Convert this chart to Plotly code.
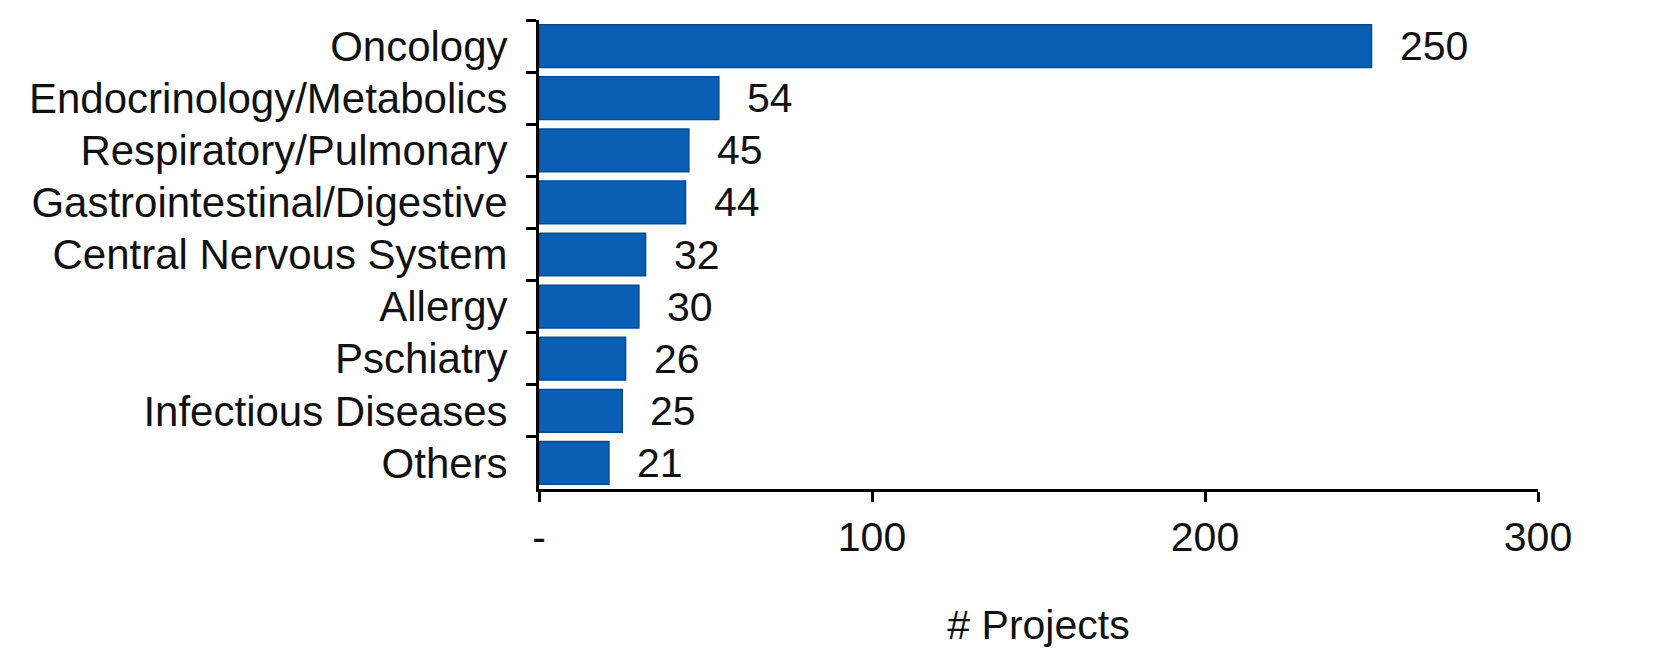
import plotly.graph_objects as go

categories = ["Oncology", "Endocrinology/Metabolics", "Respiratory/Pulmonary",
              "Gastrointestinal/Digestive", "Central Nervous System", "Allergy",
              "Pschiatry", "Infectious Diseases", "Others"]
projects = [250, 54, 45, 44, 32, 30, 26, 25, 21]
x_tickvals = [0, 100, 200, 300]
x_ticktext = ["-", "100", "200", "300"]

FONT = "Liberation Sans, Arial, sans-serif"
CAT_SIZE = 42
NUM_SIZE = 41

fig = go.Figure(go.Bar(
    x=projects, y=categories, orientation="h",
    marker=dict(color="#0A5FB5", line=dict(color="#094A8C", width=1.5)),
    width=0.82,
))

for c, v in zip(categories, projects):
    fig.add_annotation(x=v, y=c, text=str(v), showarrow=False,
                       xanchor="left", xshift=26,
                       font=dict(family=FONT, size=NUM_SIZE, color="#111"))

fig.update_layout(
    width=1680, height=652,
    margin=dict(l=531, r=150, t=12, b=171),
    plot_bgcolor="white", paper_bgcolor="white",
    showlegend=False,
    font=dict(family=FONT, size=NUM_SIZE, color="#111"),
)
fig.update_xaxes(range=[0, 300], tickvals=x_tickvals, ticktext=x_ticktext,
                 showgrid=False, zeroline=False,
                 showline=True, linecolor="black", linewidth=3,
                 ticks="outside", ticklen=10, tickwidth=3, tickcolor="black",
                 tickfont=dict(family=FONT, size=NUM_SIZE, color="#111"),
                 title=dict(text="# Projects", font=dict(family=FONT, size=NUM_SIZE, color="#111"), standoff=52))
fig.update_yaxes(autorange="reversed", showgrid=False, zeroline=False,
                 showline=True, linecolor="black", linewidth=3,
                 ticks="outside", tickson="boundaries", ticklen=10, tickwidth=3, tickcolor="black",
                 ticklabelstandoff=20,
                 tickfont=dict(family=FONT, size=CAT_SIZE, color="#111"))

fig.write_html("out.html")
